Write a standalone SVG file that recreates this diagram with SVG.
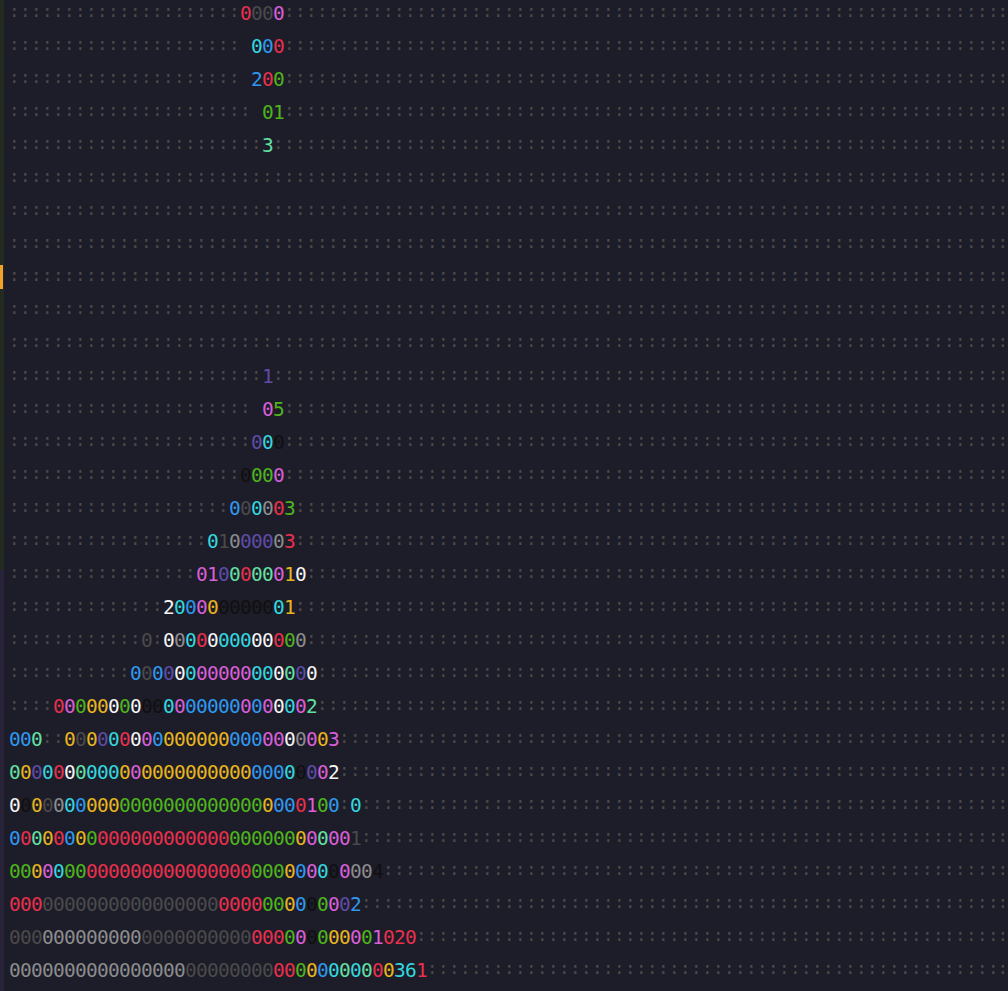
<svg xmlns="http://www.w3.org/2000/svg" width="1008" height="991" viewBox="0 0 1008 991">
<style>
text{font-family:"DejaVu Sans Mono",monospace}
.c{font-size:17.5px;letter-spacing:0.464px;fill:#4a4a4a}
.e{letter-spacing:0px}
.g{font-size:19.5px;letter-spacing:-0.74px}
.R{fill:#e8304c}.P{fill:#d95fd8}.C{fill:#34d6df}.B{fill:#2f98ee}.G{fill:#4db51b}.M{fill:#62e0a2}.U{fill:#5e4ca6}.K{fill:#101010}.Y{fill:#e6b51e}.W{fill:#f4f4f4}.S{fill:#8c8c8c}.D{fill:#4a4a4a}
</style>
<rect width="1008" height="991" fill="#1d1c29"/>
<rect x="0" y="0" width="4" height="570" fill="#232a1f"/>
<rect x="0" y="570" width="4" height="421" fill="#29233a"/>
<rect x="0" y="265" width="3" height="24" fill="#f2a22c"/>
<g id="colons">
<text class="c" y="17.4"><tspan x="9">:::::::::::::::::::::</tspan><tspan x="284">:::::::::::::::::::::::::::::::::::::::::::::::::::::::::::::::::</tspan><tspan class="e" x="997.4">:</tspan></text>
<text class="c" y="50.4"><tspan x="9">:::::::::::::::::::::</tspan><tspan x="284">:::::::::::::::::::::::::::::::::::::::::::::::::::::::::::::::::</tspan><tspan class="e" x="997.4">:</tspan></text>
<text class="c" y="83.4"><tspan x="9">:::::::::::::::::::::</tspan><tspan x="284">:::::::::::::::::::::::::::::::::::::::::::::::::::::::::::::::::</tspan><tspan class="e" x="997.4">:</tspan></text>
<text class="c" y="116.4"><tspan x="9">::::::::::::::::::::::</tspan><tspan x="284">:::::::::::::::::::::::::::::::::::::::::::::::::::::::::::::::::</tspan><tspan class="e" x="997.4">:</tspan></text>
<text class="c" y="149.4"><tspan x="9">:::::::::::::::::::::::</tspan><tspan x="273">::::::::::::::::::::::::::::::::::::::::::::::::::::::::::::::::::</tspan><tspan class="e" x="997.4">:</tspan></text>
<text class="c" y="182.4"><tspan x="9">::::::::::::::::::::::::::::::::::::::::::::::::::::::::::::::::::::::::::::::::::::::::::</tspan><tspan class="e" x="997.4">:</tspan></text>
<text class="c" y="215.4"><tspan x="9">::::::::::::::::::::::::::::::::::::::::::::::::::::::::::::::::::::::::::::::::::::::::::</tspan><tspan class="e" x="997.4">:</tspan></text>
<text class="c" y="248.4"><tspan x="9">::::::::::::::::::::::::::::::::::::::::::::::::::::::::::::::::::::::::::::::::::::::::::</tspan><tspan class="e" x="997.4">:</tspan></text>
<text class="c" y="281.4"><tspan x="9">::::::::::::::::::::::::::::::::::::::::::::::::::::::::::::::::::::::::::::::::::::::::::</tspan><tspan class="e" x="997.4">:</tspan></text>
<text class="c" y="314.4"><tspan x="9">::::::::::::::::::::::::::::::::::::::::::::::::::::::::::::::::::::::::::::::::::::::::::</tspan><tspan class="e" x="997.4">:</tspan></text>
<text class="c" y="347.4"><tspan x="9">::::::::::::::::::::::::::::::::::::::::::::::::::::::::::::::::::::::::::::::::::::::::::</tspan><tspan class="e" x="997.4">:</tspan></text>
<text class="c" y="380.4"><tspan x="9">:::::::::::::::::::::::</tspan><tspan x="273">::::::::::::::::::::::::::::::::::::::::::::::::::::::::::::::::::</tspan><tspan class="e" x="997.4">:</tspan></text>
<text class="c" y="413.4"><tspan x="9">::::::::::::::::::::::</tspan><tspan x="284">:::::::::::::::::::::::::::::::::::::::::::::::::::::::::::::::::</tspan><tspan class="e" x="997.4">:</tspan></text>
<text class="c" y="446.4"><tspan x="9">::::::::::::::::::::::</tspan><tspan x="284">:::::::::::::::::::::::::::::::::::::::::::::::::::::::::::::::::</tspan><tspan class="e" x="997.4">:</tspan></text>
<text class="c" y="479.4"><tspan x="9">:::::::::::::::::::::</tspan><tspan x="284">:::::::::::::::::::::::::::::::::::::::::::::::::::::::::::::::::</tspan><tspan class="e" x="997.4">:</tspan></text>
<text class="c" y="512.4"><tspan x="9">::::::::::::::::::::</tspan><tspan x="295">::::::::::::::::::::::::::::::::::::::::::::::::::::::::::::::::</tspan><tspan class="e" x="997.4">:</tspan></text>
<text class="c" y="545.4"><tspan x="9">::::::::::::::::::</tspan><tspan x="295">::::::::::::::::::::::::::::::::::::::::::::::::::::::::::::::::</tspan><tspan class="e" x="997.4">:</tspan></text>
<text class="c" y="578.4"><tspan x="9">:::::::::::::::::</tspan><tspan x="306">:::::::::::::::::::::::::::::::::::::::::::::::::::::::::::::::</tspan><tspan class="e" x="997.4">:</tspan></text>
<text class="c" y="611.4"><tspan x="9">::::::::::::::</tspan><tspan x="295">::::::::::::::::::::::::::::::::::::::::::::::::::::::::::::::::</tspan><tspan class="e" x="997.4">:</tspan></text>
<text class="c" y="644.4"><tspan x="9">::::::::::::</tspan><tspan x="152">:</tspan><tspan x="306">:::::::::::::::::::::::::::::::::::::::::::::::::::::::::::::::</tspan><tspan class="e" x="997.4">:</tspan></text>
<text class="c" y="677.4"><tspan x="9">:::::::::::</tspan><tspan x="317">::::::::::::::::::::::::::::::::::::::::::::::::::::::::::::::</tspan><tspan class="e" x="997.4">:</tspan></text>
<text class="c" y="710.4"><tspan x="9">::::</tspan><tspan x="317">::::::::::::::::::::::::::::::::::::::::::::::::::::::::::::::</tspan><tspan class="e" x="997.4">:</tspan></text>
<text class="c" y="743.4"><tspan x="42">::</tspan><tspan x="339">::::::::::::::::::::::::::::::::::::::::::::::::::::::::::::</tspan><tspan class="e" x="997.4">:</tspan></text>
<text class="c" y="776.4"><tspan x="339">::::::::::::::::::::::::::::::::::::::::::::::::::::::::::::</tspan><tspan class="e" x="997.4">:</tspan></text>
<text class="c" y="809.4"><tspan x="339">:</tspan><tspan x="361">::::::::::::::::::::::::::::::::::::::::::::::::::::::::::</tspan><tspan class="e" x="997.4">:</tspan></text>
<text class="c" y="842.4"><tspan x="361">::::::::::::::::::::::::::::::::::::::::::::::::::::::::::</tspan><tspan class="e" x="997.4">:</tspan></text>
<text class="c" y="875.4"><tspan x="383">::::::::::::::::::::::::::::::::::::::::::::::::::::::::</tspan><tspan class="e" x="997.4">:</tspan></text>
<text class="c" y="908.4"><tspan x="361">::::::::::::::::::::::::::::::::::::::::::::::::::::::::::</tspan><tspan class="e" x="997.4">:</tspan></text>
<text class="c" y="941.4"><tspan x="416">:::::::::::::::::::::::::::::::::::::::::::::::::::::</tspan><tspan class="e" x="997.4">:</tspan></text>
<text class="c" y="974.4"><tspan x="427">::::::::::::::::::::::::::::::::::::::::::::::::::::</tspan><tspan class="e" x="997.4">:</tspan></text>
</g>
<g id="digits">
<text class="g" id="r0" x="240" y="19.5"><tspan class="R">0</tspan><tspan class="D">00</tspan><tspan class="P">0</tspan></text>
<text class="g" id="r1" x="251" y="52.5"><tspan class="C">0</tspan><tspan class="B">0</tspan><tspan class="R">0</tspan></text>
<text class="g" id="r2" x="251" y="85.5"><tspan class="B">2</tspan><tspan class="R">0</tspan><tspan class="G">0</tspan></text>
<text class="g" id="r3" x="262" y="118.5"><tspan class="G">01</tspan></text>
<text class="g" id="r4" x="262" y="151.5"><tspan class="M">3</tspan></text>
<text class="g" id="r11" x="262" y="382.5"><tspan class="U">1</tspan></text>
<text class="g" id="r12" x="262" y="415.5"><tspan class="P">0</tspan><tspan class="G">5</tspan></text>
<text class="g" id="r13" x="251" y="448.5"><tspan class="U">0</tspan><tspan class="C">0</tspan><tspan class="K">0</tspan></text>
<text class="g" id="r14" x="240" y="481.5"><tspan class="K">0</tspan><tspan class="G">00</tspan><tspan class="P">0</tspan></text>
<text class="g" id="r15" x="229" y="514.5"><tspan class="B">0</tspan><tspan class="D">0</tspan><tspan class="C">0</tspan><tspan class="S">0</tspan><tspan class="R">0</tspan><tspan class="G">3</tspan></text>
<text class="g" id="r16" x="207" y="547.5"><tspan class="C">0</tspan><tspan class="D">1</tspan><tspan class="S">0</tspan><tspan class="U">000</tspan><tspan class="S">0</tspan><tspan class="R">3</tspan></text>
<text class="g" id="r17" x="196" y="580.5"><tspan class="P">01</tspan><tspan class="U">0</tspan><tspan class="M">0</tspan><tspan class="R">0</tspan><tspan class="M">00</tspan><tspan class="P">0</tspan><tspan class="Y">1</tspan><tspan class="W">0</tspan></text>
<text class="g" id="r18" x="163" y="613.5"><tspan class="W">2</tspan><tspan class="C">0</tspan><tspan class="B">0</tspan><tspan class="P">0</tspan><tspan class="Y">0</tspan><tspan class="K">00000</tspan><tspan class="C">0</tspan><tspan class="Y">1</tspan></text>
<text class="g" id="r19" y="646.5"><tspan class="D" x="141">0</tspan><tspan class="W" x="163">0</tspan><tspan class="S">0</tspan><tspan class="C">0</tspan><tspan class="R">0</tspan><tspan class="W">0</tspan><tspan class="C">000</tspan><tspan class="W">00</tspan><tspan class="R">0</tspan><tspan class="G">0</tspan><tspan class="S">0</tspan></text>
<text class="g" id="r20" x="130" y="679.5"><tspan class="B">0</tspan><tspan class="D">0</tspan><tspan class="B">0</tspan><tspan class="U">0</tspan><tspan class="W">0</tspan><tspan class="C">0</tspan><tspan class="P">00000</tspan><tspan class="C">00</tspan><tspan class="W">0</tspan><tspan class="M">0</tspan><tspan class="U">0</tspan><tspan class="W">0</tspan></text>
<text class="g" id="r21" x="53" y="712.5"><tspan class="R">0</tspan><tspan class="P">0</tspan><tspan class="G">0</tspan><tspan class="Y">00</tspan><tspan class="W">0</tspan><tspan class="G">0</tspan><tspan class="W">0</tspan><tspan class="K">00</tspan><tspan class="C">0</tspan><tspan class="P">0</tspan><tspan class="B">00000</tspan><tspan class="P">0</tspan><tspan class="B">0</tspan><tspan class="P">0</tspan><tspan class="W">0</tspan><tspan class="C">0</tspan><tspan class="P">0</tspan><tspan class="M">2</tspan></text>
<text class="g" id="r22" y="745.5"><tspan class="B" x="9">00</tspan><tspan class="M">0</tspan><tspan class="Y" x="64">0</tspan><tspan class="D">0</tspan><tspan class="Y">0</tspan><tspan class="U">0</tspan><tspan class="C">0</tspan><tspan class="R">0</tspan><tspan class="W">0</tspan><tspan class="P">0</tspan><tspan class="B">0</tspan><tspan class="Y">000000</tspan><tspan class="B">000</tspan><tspan class="P">00</tspan><tspan class="W">0</tspan><tspan class="S">0</tspan><tspan class="P">0</tspan><tspan class="Y">0</tspan><tspan class="P">3</tspan></text>
<text class="g" id="r23" x="9" y="778.5"><tspan class="M">0</tspan><tspan class="Y">0</tspan><tspan class="U">0</tspan><tspan class="C">0</tspan><tspan class="R">0</tspan><tspan class="W">0</tspan><tspan class="M">0</tspan><tspan class="C">000</tspan><tspan class="Y">0</tspan><tspan class="P">0</tspan><tspan class="Y">0000000000</tspan><tspan class="B">000</tspan><tspan class="C">0</tspan><tspan class="K">0</tspan><tspan class="U">0</tspan><tspan class="P">0</tspan><tspan class="W">2</tspan></text>
<text class="g" id="r24" y="811.5"><tspan class="W" x="9">0</tspan><tspan class="K">0</tspan><tspan class="Y">0</tspan><tspan class="D">0</tspan><tspan class="S">0</tspan><tspan class="C">0</tspan><tspan class="B">0</tspan><tspan class="Y">000</tspan><tspan class="G">0000000000000</tspan><tspan class="Y">0</tspan><tspan class="B">00</tspan><tspan class="R">0</tspan><tspan class="P">1</tspan><tspan class="G">0</tspan><tspan class="B">0</tspan><tspan class="C" x="350">0</tspan></text>
<text class="g" id="r25" x="9" y="844.5"><tspan class="B">0</tspan><tspan class="R">0</tspan><tspan class="M">0</tspan><tspan class="Y">0</tspan><tspan class="R">0</tspan><tspan class="B">0</tspan><tspan class="Y">0</tspan><tspan class="G">0</tspan><tspan class="R">000000000000</tspan><tspan class="G">000000</tspan><tspan class="Y">0</tspan><tspan class="P">0</tspan><tspan class="M">0</tspan><tspan class="P">00</tspan><tspan class="D">1</tspan></text>
<text class="g" id="r26" x="9" y="877.5"><tspan class="G">00</tspan><tspan class="Y">0</tspan><tspan class="P">0</tspan><tspan class="C">0</tspan><tspan class="G">00</tspan><tspan class="R">000000000000000</tspan><tspan class="G">000</tspan><tspan class="Y">0</tspan><tspan class="B">0</tspan><tspan class="P">0</tspan><tspan class="C">0</tspan><tspan class="K">0</tspan><tspan class="P">0</tspan><tspan class="S">00</tspan><tspan class="K">4</tspan></text>
<text class="g" id="r27" x="9" y="910.5"><tspan class="R">000</tspan><tspan class="D">0000000000000000</tspan><tspan class="R">0000</tspan><tspan class="G">00</tspan><tspan class="Y">0</tspan><tspan class="B">0</tspan><tspan class="K">0</tspan><tspan class="G">0</tspan><tspan class="P">0</tspan><tspan class="U">0</tspan><tspan class="B">2</tspan></text>
<text class="g" id="r28" x="9" y="943.5"><tspan class="D">000</tspan><tspan class="S">000000000</tspan><tspan class="D">0000000000</tspan><tspan class="R">000</tspan><tspan class="G">0</tspan><tspan class="P">0</tspan><tspan class="K">0</tspan><tspan class="G">0</tspan><tspan class="Y">00</tspan><tspan class="P">0</tspan><tspan class="G">0</tspan><tspan class="P">1</tspan><tspan class="R">020</tspan></text>
<text class="g" id="r29" x="9" y="976.5"><tspan class="S">0000000000000000</tspan><tspan class="D">00000000</tspan><tspan class="R">00</tspan><tspan class="G">0</tspan><tspan class="Y">0</tspan><tspan class="B">0</tspan><tspan class="C">0</tspan><tspan class="M">0</tspan><tspan class="C">0</tspan><tspan class="M">0</tspan><tspan class="R">0</tspan><tspan class="Y">0</tspan><tspan class="C">36</tspan><tspan class="R">1</tspan></text>
</g>
</svg>
